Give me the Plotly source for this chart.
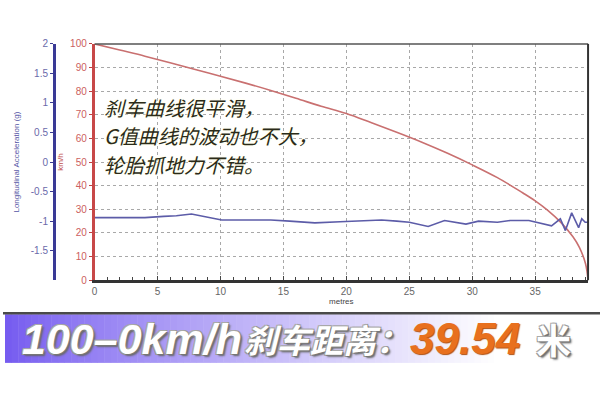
import plotly.graph_objects as go

# ---- data ----
dist_speed = [0, 2, 4, 6, 8, 10, 12, 14, 16, 18, 20, 22, 24, 26, 28, 30, 32, 34, 35, 36, 37, 38, 38.5, 39.0, 39.2]
speed_kmh = [100, 97.4, 94.8, 92.0, 89.2, 86.3, 83.4, 80.3, 77.0, 73.6, 70.5, 66.6, 62.6, 58.4, 53.8, 48.8, 43.4, 37.0, 33.6, 29.6, 24.7, 18.4, 14.0, 7.0, 0]

dist_g = [0, 2, 4, 5.5, 6.5, 7.7, 8.8, 10.1, 12, 14, 15.5, 17.5, 19.5, 21, 22.8, 24, 25, 26.5, 27.8, 29.5, 30.5, 32, 33, 34.5, 35.5, 36.3, 37.0, 37.4, 37.9, 38.45, 38.7, 38.97, 39.2]
accel_g = [-0.94, -0.94, -0.94, -0.92, -0.91, -0.88, -0.92, -0.98, -0.98, -0.98, -1.00, -1.03, -1.01, -1.00, -0.98, -1.00, -1.02, -1.09, -0.99, -1.05, -1.00, -1.02, -0.99, -0.99, -1.04, -1.08, -0.96, -1.16, -0.86, -1.11, -0.96, -1.02, -1.02]

x_ticks = [0, 5, 10, 15, 20, 25, 30, 35]
kmh_ticks = [0, 10, 20, 30, 40, 50, 60, 70, 80, 90, 100]
g_tickvals = [-1.5, -1, -0.5, 0, 0.5, 1, 1.5, 2]
g_ticktext = ["-1.5", "-1", "-0.5", "0", "0.5", "1", "1.5", "2"]

note_lines = ["刹车曲线很平滑，", "G值曲线的波动也不大，", "轮胎抓地力不错。"]
banner_a = "100–0km/h"
banner_b = "刹车距离："
banner_num = "39.54"
banner_unit = "米"

W, H = 600, 400
def px(x):
    return x / W
def py(y):
    return 1 - y / H

fig = go.Figure()
fig.add_trace(go.Scatter(x=dist_speed, y=speed_kmh, mode="lines", yaxis="y",
                         line=dict(color="#c97070", width=1.6), line_shape="spline",
                         hoverinfo="skip", showlegend=False))
fig.add_trace(go.Scatter(x=dist_g, y=accel_g, mode="lines", yaxis="y2",
                         line=dict(color="#5c5ca8", width=1.6),
                         hoverinfo="skip", showlegend=False))

shapes = []
# banner gradient
x0, x1 = 2, 600
N = 90
c0 = (118, 92, 240)
for i in range(N):
    a = x0 + (x1 - x0) * i / N
    b = x0 + (x1 - x0) * (i + 1) / N + 0.5
    t = min(1.0, (i / N) / 0.82)
    t = t ** 0.85
    col = tuple(int(c0[k] + (255 - c0[k]) * t) for k in range(3))
    shapes.append(dict(type="rect", xref="paper", yref="paper",
                       x0=px(a), x1=px(b), y0=py(368), y1=py(318),
                       line=dict(width=0), fillcolor="rgb(%d,%d,%d)" % col, layer="below"))
shapes.append(dict(type="line", xref="paper", yref="paper", x0=0, x1=1,
                   y0=py(317), y1=py(317), line=dict(color="#4a4a4a", width=2.5)))
# plot frame top/right
shapes.append(dict(type="line", xref="x domain", yref="y domain", x0=0, x1=1, y0=1, y1=1,
                   line=dict(color="#555", width=1.5)))
shapes.append(dict(type="line", xref="x domain", yref="y domain", x0=1, x1=1, y0=0, y1=1,
                   line=dict(color="#333", width=2)))

shadow_w = "1px 1px 0 #777, -1px -1px 0 #aaa, 1px -1px 0 #999, -1px 1px 0 #999, 2px 2px 2px #666"
annotations = []
note_y = [105, 134.5, 164]
for line_text, yy in zip(note_lines, note_y):
    annotations.append(dict(text=line_text, xref="paper", yref="paper", x=px(100), y=py(yy),
                            xanchor="left", yanchor="middle", align="left", showarrow=False,
                            borderpad=0,
                            font=dict(family="Noto Sans CJK SC", size=20, color="#2b2b18", style="italic",
                                      shadow="0 0 3px #ffffe8, 0 0 2px #ffffe8")))
annotations += [
    dict(text=banner_a, xref="paper", yref="paper", x=px(17), y=py(343),
         xanchor="left", yanchor="middle", showarrow=False,
         font=dict(family="Liberation Sans", size=43, color="#ffffff", weight="bold",
                   style="italic", shadow=shadow_w)),
    dict(text=banner_b, xref="paper", yref="paper", x=px(240), y=py(343),
         xanchor="left", yanchor="middle", showarrow=False,
         font=dict(family="Noto Sans CJK SC", size=33, color="#ffffff", weight="bold",
                   style="italic", shadow=shadow_w)),
    dict(text=banner_num, xref="paper", yref="paper", x=px(407), y=py(343),
         xanchor="left", yanchor="middle", showarrow=False,
         font=dict(family="Liberation Sans", size=44, color="#e8701e", weight="bold",
                   style="italic", shadow="1px 1px 1px #b05010")),
    dict(text=banner_unit, xref="paper", yref="paper", x=px(534), y=py(343),
         xanchor="left", yanchor="middle", showarrow=False,
         font=dict(family="Noto Sans CJK SC", size=35, color="#ffffff", weight="bold",
                   shadow=shadow_w)),
]

fig.update_layout(
    width=W, height=H,
    margin=dict(l=0, r=0, t=0, b=0),
    paper_bgcolor="white", plot_bgcolor="white",
    font=dict(family="Liberation Sans"),
    xaxis=dict(domain=[px(92), px(588)], range=[0, 39.2],
               tickvals=x_ticks, ticks="inside", ticklen=4, tickcolor="#444",
               minor=dict(dtick=1, ticks="inside", ticklen=3, tickcolor="#444", showgrid=False),
               showgrid=True, gridcolor="#a8a8a8", griddash="dot", gridwidth=1,
               showline=True, linecolor="#333", linewidth=2.5,
               tickfont=dict(size=10, color="#666"),
               title=dict(text="metres", font=dict(size=8, color="#444"), standoff=2),
               zeroline=False, fixedrange=True),
    yaxis=dict(domain=[py(283), py(40)], range=[0, 100],
               tickvals=kmh_ticks, ticks="outside", ticklen=3, tickcolor="#c04040",
               showgrid=True, gridcolor="#a8a8a8", griddash="dot", gridwidth=1,
               showline=True, linecolor="#c84848", linewidth=2.5,
               tickfont=dict(size=10, color="#cc6060"),
               title=dict(text="km/h", font=dict(size=8, color="#c05050"), standoff=6),
               zeroline=False, fixedrange=True),
    yaxis2=dict(overlaying="y", anchor="free", position=px(51), side="left",
                range=[-2, 2], tickvals=g_tickvals, ticktext=g_ticktext,
                ticks="outside", ticklen=3, tickcolor="#3a3a90",
                showgrid=False, zeroline=False,
                showline=True, linecolor="#3a3a96", linewidth=2.5,
                tickfont=dict(size=10, color="#6a6aaa"),
                title=dict(text="Longitudinal Acceleration (g)", font=dict(size=8, color="#5555a5"), standoff=8),
                fixedrange=True),
    shapes=shapes,
    annotations=annotations,
)

fig.write_html("out.html", config={"displayModeBar": False},
               post_script="document.body.style.margin='0';document.body.style.overflow='hidden';")
